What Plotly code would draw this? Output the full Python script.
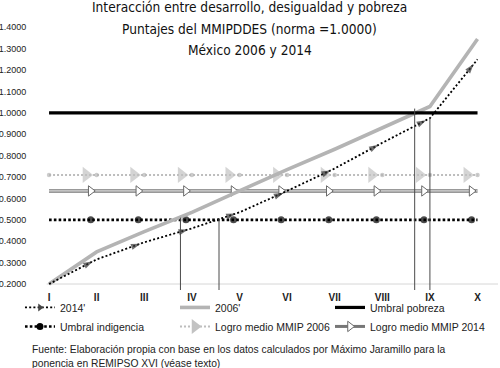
import plotly.graph_objects as go

# ---------------- data ----------------
categories = ["I", "II", "III", "IV", "V", "VI", "VII", "VIII", "IX", "X"]
v2014 = [0.20, 0.315, 0.395, 0.46, 0.535, 0.635, 0.74, 0.86, 0.975, 1.25]
v2006 = [0.20, 0.35, 0.445, 0.535, 0.635, 0.735, 0.83, 0.93, 1.03, 1.345]
umbral_pobreza = 1.00
umbral_indigencia = 0.50
logro_2006 = 0.71
logro_2014 = 0.635
drop_x = [2.76, 3.57, 7.68, 8.0]
drop_top = [0.51, 0.505, 1.02, 0.98]
y_ticks = [0.2, 0.3, 0.4, 0.5, 0.6, 0.7, 0.8, 0.9, 1.0, 1.1, 1.2, 1.3, 1.4]

title_lines = ["Interacción entre desarrollo, desigualdad y pobreza",
               "Puntajes del MMIPDDES (norma =1.0000)",
               "México 2006 y 2014"]
source_lines = ["Fuente: Elaboración propia con base en los datos calculados por Máximo Jaramillo para la",
                "ponencia en REMIPSO XVI (véase texto)"]

# ---------------- helpers ----------------
xs = list(range(len(categories)))
X_RANGE = [-0.4, 9.43]
Y_MIN, Y_MAX = 0.172, 1.42
NARROW = "Liberation Sans Narrow, Arial Narrow, DejaVu Sans Condensed, sans-serif"
SANS = "Liberation Sans, Arial, sans-serif"


def with_heads(x, y, back):
    """Interleave each data point with a point a fraction `back` before it
    on the incoming segment (where the segment's end-arrow is drawn)."""
    X, Y, head = [], [], []
    for i in range(len(x)):
        if i > 0:
            t = 1 - back
            X.append(x[i - 1] + t * (x[i] - x[i - 1]))
            Y.append(y[i - 1] + t * (y[i] - y[i - 1]))
            head.append(True)
        X.append(x[i])
        Y.append(y[i])
        head.append(False)
    return X, Y, head


fig = go.Figure()

# Logro medio MMIP 2006: light gray dotted with big gray arrowheads and dots
X, Y, H = with_heads(xs, [logro_2006] * len(xs), 0.22)
fig.add_trace(go.Scatter(
    x=X, y=Y, mode="lines+markers", showlegend=False, hoverinfo="skip",
    line=dict(color="#bdbdbd", width=2, dash="2px,2px"),
    marker=dict(symbol=["triangle-right" if h else "circle" for h in H],
                size=[14 if h else 4.5 for h in H],
                color=["#c2c2c2" if h else "#b5b5b5" for h in H],
                line=dict(width=0))))

# Logro medio MMIP 2014: double line with open arrowheads
fig.add_trace(go.Scatter(x=xs, y=[logro_2014] * len(xs), mode="lines", showlegend=False,
                         hoverinfo="skip", line=dict(color="#777777", width=3.4)))
fig.add_trace(go.Scatter(x=xs, y=[logro_2014] * len(xs), mode="lines", showlegend=False,
                         hoverinfo="skip", line=dict(color="#ffffff", width=1)))
X, Y, H = with_heads(xs, [logro_2014] * len(xs), 0.125)
fig.add_trace(go.Scatter(
    x=[a for a, h in zip(X, H) if h], y=[b for b, h in zip(Y, H) if h],
    mode="markers", showlegend=False, hoverinfo="skip",
    marker=dict(symbol="triangle-right", size=9, color="#ffffff",
                line=dict(color="#6a6a6a", width=1))))

# Umbral indigencia: black dotted with round ends
X, Y, H = with_heads(xs, [umbral_indigencia] * len(xs), 0.125)
fig.add_trace(go.Scatter(
    x=X, y=Y, mode="lines+markers", showlegend=False, hoverinfo="skip",
    line=dict(color="#000000", width=2.6, dash="2.6px,2.2px"),
    marker=dict(symbol="circle", size=[7 if h else 0 for h in H], color="#000000",
                line=dict(width=0))))

# 2006'
fig.add_trace(go.Scatter(x=xs, y=v2006, mode="lines", showlegend=False, hoverinfo="skip",
                         line=dict(color="#b4b4b4", width=3.6)))

# 2014': dotted with arrowheads along the line
X, Y, H = with_heads(xs, v2014, 0.08)
fig.add_trace(go.Scatter(
    x=X, y=Y, mode="lines+markers", showlegend=False, hoverinfo="skip",
    line=dict(color="#000000", width=1.8, dash="2px,2.2px"),
    marker=dict(symbol="arrow", angleref="previous", size=[10 if h else 0 for h in H],
                color="#333333", line=dict(width=0))))

# Umbral pobreza
fig.add_trace(go.Scatter(x=xs, y=[umbral_pobreza] * len(xs), mode="lines", showlegend=False,
                         hoverinfo="skip", line=dict(color="#000000", width=3.2)))

# drop lines
dx, dy = [], []
for a, b in zip(drop_x, drop_top):
    dx += [a, a, None]
    dy += [b, Y_MIN, None]
fig.add_trace(go.Scatter(x=dx, y=dy, mode="lines", showlegend=False, hoverinfo="skip",
                         line=dict(color="#4a4a4a", width=1)))

# ---------------- legend entries ----------------
leg = [
    dict(name="2014'", mode="lines+markers",
         line=dict(color="#000000", width=1.8, dash="2px,2.2px"),
         marker=dict(symbol="triangle-right", size=7, color="#444444")),
    dict(name="2006'", mode="lines", line=dict(color="#b4b4b4", width=3.6)),
    dict(name="Umbral pobreza", mode="lines", line=dict(color="#000000", width=3.2)),
    dict(name="Umbral indigencia", mode="lines+markers",
         line=dict(color="#000000", width=2.6, dash="2.6px,2.2px"),
         marker=dict(symbol="circle", size=7, color="#000000")),
    dict(name="Logro medio MMIP 2006", mode="lines+markers",
         line=dict(color="#bdbdbd", width=2, dash="2px,2px"),
         marker=dict(symbol="triangle-right", size=13, color="#c2c2c2")),
    dict(name="Logro medio MMIP 2014", mode="lines+markers",
         line=dict(color="#777777", width=3),
         marker=dict(symbol="triangle-right", size=9, color="#ffffff",
                     line=dict(color="#6a6a6a", width=1))),
]
for d in leg:
    fig.add_trace(go.Scatter(x=[None], y=[None], showlegend=True, **d))

# ---------------- layout ----------------
fig.update_layout(
    width=500, height=368,
    margin=dict(l=30, r=2, t=23, b=78, autoexpand=False),
    paper_bgcolor="white", plot_bgcolor="white",
    font=dict(family=SANS, size=10, color="#222222"),
    showlegend=True,
    legend=dict(orientation="h", x=-0.0214, xanchor="left", y=-0.011, yanchor="top",
                entrywidth=110, entrywidthmode="pixels", itemwidth=30,
                font=dict(family=SANS, size=10.5, color="#222222"),
                bgcolor="rgba(0,0,0,0)", traceorder="normal"),
    xaxis=dict(range=X_RANGE, tickmode="array", tickvals=xs, ticktext=categories,
               showgrid=False, zeroline=False, showline=False, ticks="",
               tickfont=dict(family=SANS, size=10, color="#222222", weight="bold"),
               fixedrange=True),
    yaxis=dict(range=[Y_MIN, Y_MAX], tickmode="array", tickvals=y_ticks,
               ticktext=[f"{v:.4f}" for v in y_ticks],
               showgrid=False, zeroline=False, showline=False,
               ticks="outside", ticklen=1, tickcolor="rgba(0,0,0,0)",
               tickfont=dict(family=SANS, size=9, color="#222222"),
               fixedrange=True),
    shapes=[dict(type="line", xref="x", yref="y", x0=-0.05, x1=X_RANGE[1], y0=0.2, y1=0.2,
                 line=dict(color="#d6d6d6", width=1), layer="below")],
)

title_y = [1.0599, 0.9775, 0.8989]
for txt, yy in zip(title_lines, title_y):
    fig.add_annotation(text=txt, xref="paper", yref="paper", x=0.470, y=yy,
                       xanchor="center", yanchor="middle", showarrow=False,
                       font=dict(family=NARROW, size=13.6, color="#111111"))

fig.add_annotation(text=source_lines[0], xref="paper", yref="paper", x=0.0, y=-0.221,
                   xanchor="left", yanchor="middle", showarrow=False, align="left",
                   font=dict(family=SANS, size=10.3, color="#222222"))
fig.add_annotation(text=source_lines[1], xref="paper", yref="paper", x=0.0, y=-0.277,
                   xanchor="left", yanchor="middle", showarrow=False, align="left",
                   font=dict(family=SANS, size=10.3, color="#222222"))

fig.write_html("out.html", config={"displayModeBar": False},
               post_script="document.body.style.margin='0';")
